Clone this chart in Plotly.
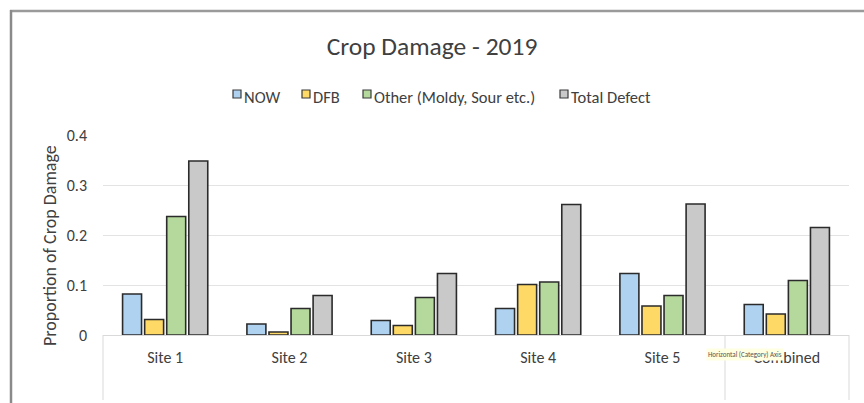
import plotly.graph_objects as go

categories = ["Site 1", "Site 2", "Site 3", "Site 4", "Site 5", "Combined"]
now_vals = [0.082, 0.022, 0.029, 0.053, 0.123, 0.061]
dfb_vals = [0.031, 0.006, 0.019, 0.101, 0.058, 0.042]
other_vals = [0.237, 0.053, 0.075, 0.106, 0.079, 0.109]
total_vals = [0.348, 0.079, 0.123, 0.261, 0.262, 0.215]
series_names = ["NOW", "DFB", "Other (Moldy, Sour etc.)", "Total Defect"]
y_ticks = [0, 0.1, 0.2, 0.3, 0.4]
y_tick_text = ["0", "0.1", "0.2", "0.3", "0.4"]

colors = ["#AFD2F0", "#FFD966", "#B5D99C", "#C9C9C9"]
FONT = "Carlito, Lato, 'Open Sans', sans-serif"
TXT = "#404040"

W, H = 864, 403
L, R, T, B = 103, 15, 135, 68
PW, PH = W - L - R, H - T - B


def fx(p):
    """pixel x -> paper x"""
    return (p - L) / PW


def fy(p):
    """pixel y -> paper y"""
    return (H - B - p) / PH


fig = go.Figure()
for name, vals, c in zip(series_names, [now_vals, dfb_vals, other_vals, total_vals], colors):
    fig.add_trace(go.Bar(
        x=categories, y=vals, name=name, showlegend=False,
        marker=dict(color=c, line=dict(color="#2b2b2b", width=1.6)),
    ))

shapes = [
    # outer chart border (top and left)
    dict(type="line", xref="paper", yref="paper", x0=fx(10), x1=fx(W), y0=fy(11), y1=fy(11),
         line=dict(color="#9a9a9a", width=2.5)),
    dict(type="line", xref="paper", yref="paper", x0=fx(11), x1=fx(11), y0=fy(10), y1=fy(H),
         line=dict(color="#8a8a8a", width=2.5)),
    # data table grid under axis
    dict(type="line", xref="paper", yref="paper", x0=0, x1=0, y0=0, y1=fy(400),
         line=dict(color="#d9d9d9", width=1)),
    dict(type="line", xref="paper", yref="paper", x0=1, x1=1, y0=0, y1=fy(400),
         line=dict(color="#d9d9d9", width=1)),
    dict(type="line", xref="paper", yref="paper", x0=fx(725), x1=fx(725), y0=0, y1=fy(400),
         line=dict(color="#d9d9d9", width=1)),
]

annotations = []

# legend (custom, compact Excel style)
legend_x = [233, 302, 363, 560]
for name, c, lx in zip(series_names, colors, legend_x):
    shapes.append(dict(type="rect", xref="paper", yref="paper",
                       x0=fx(lx), x1=fx(lx + 8), y0=fy(98), y1=fy(90),
                       fillcolor=c, line=dict(color="#3a3a3a", width=1.2)))
    annotations.append(dict(text=name, xref="paper", yref="paper", x=fx(lx + 9), y=fy(96.5),
                            xanchor="left", yanchor="middle", showarrow=False,
                            font=dict(size=16.5, color=TXT, family=FONT)))

# y-axis title
annotations.append(dict(text="Proportion of Crop Damage", xref="paper", yref="paper",
                        x=fx(50), y=fy(245), textangle=-90, showarrow=False,
                        xanchor="center", yanchor="middle",
                        font=dict(size=18, color=TXT, family=FONT)))

# tooltip remnant
annotations.append(dict(text="Horizontal (Category) Axis", xref="paper", yref="paper",
                        x=fx(745), y=fy(354.5), showarrow=False,
                        font=dict(size=7, color="#555555", family=FONT),
                        bgcolor="#FFFFE1", borderpad=1, xanchor="center", yanchor="middle"))

fig.update_layout(
    width=W, height=H,
    margin=dict(l=L, r=R, t=T, b=B),
    paper_bgcolor="white", plot_bgcolor="white",
    font=dict(family=FONT, color=TXT, size=16),
    title=dict(text="Crop Damage - 2019", x=0.5, xanchor="center", y=1 - 46 / H, yanchor="middle",
               font=dict(size=25.5, color=TXT, family=FONT)),
    barmode="group", bargap=0.29, bargroupgap=0.14,
    showlegend=False,
    xaxis=dict(showgrid=False, showline=True, linecolor="#d9d9d9", linewidth=1,
               ticks="", tickfont=dict(size=16, color=TXT), ticklabelstandoff=8),
    yaxis=dict(range=[0, 0.4], tickvals=y_ticks, ticktext=y_tick_text, showgrid=True,
               gridcolor="#e3e3e3", gridwidth=1, zeroline=False, showline=False,
               tickfont=dict(size=16, color=TXT), ticklabelstandoff=15),
    shapes=shapes,
    annotations=annotations,
)

fig.write_html("out.html")
